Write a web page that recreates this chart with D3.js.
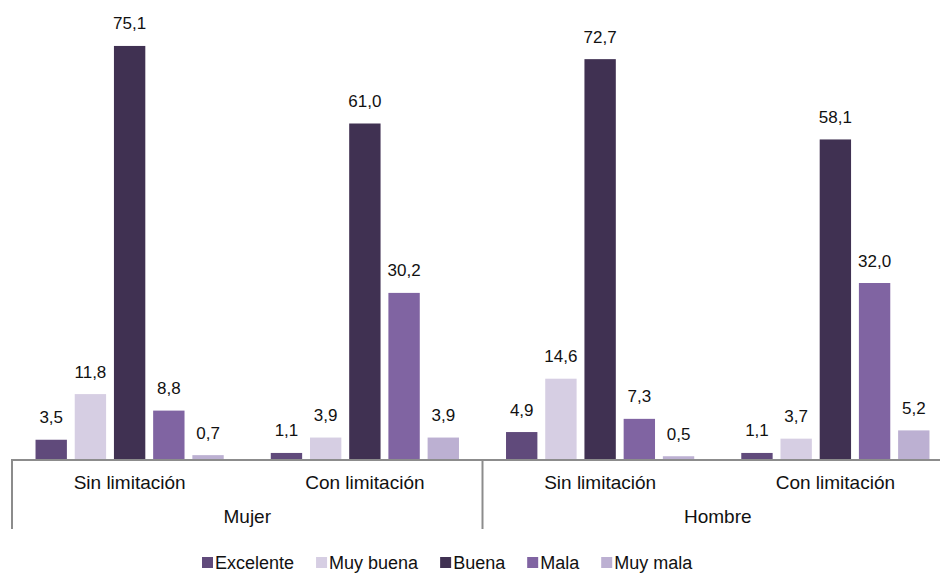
<!DOCTYPE html>
<html>
<head>
<meta charset="utf-8">
<script src="https://cdn.jsdelivr.net/npm/d3@7"></script>
<style>
  html, body { margin: 0; padding: 0; background: #fff; }
  svg { display: block; font-family: "Liberation Sans", Arial, sans-serif; }
</style>
</head>
<body>
<svg id="chart" width="940" height="574"></svg>
<script>
// Self-rated health by limitation status, split by sex (percent)
const groups = ["Mujer", "Hombre"];
const categories = ["Sin limitación", "Con limitación"];
const series = ["Excelente", "Muy buena", "Buena", "Mala", "Muy mala"];
const colors = ["#604a7b", "#d6cee3", "#403152", "#8064a2", "#bcb0d2"];

const mujerSin = [3.5, 11.8, 75.1, 8.8, 0.7];
const mujerCon = [1.1, 3.9, 61.0, 30.2, 3.9];
const hombreSin = [4.9, 14.6, 72.7, 7.3, 0.5];
const hombreCon = [1.1, 3.7, 58.1, 32.0, 5.2];

const values = [[mujerSin, mujerCon], [hombreSin, hombreCon]];

// flatten into one row per (group, category)
const rows = [];
groups.forEach((g, gi) => {
  categories.forEach((c, ci) => {
    rows.push({ key: g + "|" + c, group: g, category: c, vals: values[gi][ci] });
  });
});

const svg = d3.select("#chart");
const fmt = v => v.toFixed(1).replace(".", ",");

const left = 12, right = 953, baseY = 459;

const x0 = d3.scaleBand().domain(rows.map(r => r.key)).range([left, right]).padding(0);
const x1 = d3.scaleBand().domain(series).range([0, x0.bandwidth()])
  .paddingInner(0.2).paddingOuter(0.6);
const y = d3.scaleLinear().domain([0, 80]).range([baseY, baseY - 440]);

const cats = svg.append("g").selectAll("g").data(rows).join("g")
  .attr("transform", d => `translate(${x0(d.key)},0)`);

cats.selectAll("rect").data(d => d.vals.map((v, i) => ({ s: series[i], v, i })))
  .join("rect")
  .attr("x", d => x1(d.s))
  .attr("width", x1.bandwidth())
  .attr("y", d => y(d.v))
  .attr("height", d => y(0) - y(d.v))
  .attr("fill", d => colors[d.i]);

cats.selectAll("text.val").data(d => d.vals.map((v, i) => ({ s: series[i], v })))
  .join("text")
  .attr("class", "val")
  .attr("x", d => x1(d.s) + x1.bandwidth() / 2)
  .attr("y", d => y(d.v) - 16.5)
  .attr("text-anchor", "middle")
  .attr("font-size", 17)
  .attr("fill", "#111")
  .text(d => fmt(d.v));

// axis frame
const axisColor = "#8c8c8c";
svg.append("line")
  .attr("x1", left).attr("x2", right)
  .attr("y1", baseY + 1).attr("y2", baseY + 1)
  .attr("stroke", axisColor).attr("stroke-width", 2);

const groupEdges = [left, x0(groups[1] + "|" + categories[0]), right];
groupEdges.forEach(xe => {
  svg.append("line")
    .attr("x1", xe).attr("x2", xe)
    .attr("y1", baseY).attr("y2", 529)
    .attr("stroke", axisColor).attr("stroke-width", 2);
});

// category labels
svg.append("g").selectAll("text").data(rows).join("text")
  .attr("x", d => x0(d.key) + x0.bandwidth() / 2)
  .attr("y", 489)
  .attr("text-anchor", "middle")
  .attr("font-size", 19)
  .attr("fill", "#111")
  .text(d => d.category);

// group labels
svg.append("g").selectAll("text").data(groups).join("text")
  .attr("x", g => {
    const a = x0(g + "|" + categories[0]);
    const b = x0(g + "|" + categories[categories.length - 1]) + x0.bandwidth();
    return (a + b) / 2;
  })
  .attr("y", 523)
  .attr("text-anchor", "middle")
  .attr("font-size", 19)
  .attr("fill", "#111")
  .text(g => g);

// legend
const legend = svg.append("g").attr("transform", "translate(202,0)");
let lx = 0;
series.forEach((s, i) => {
  const item = legend.append("g").attr("transform", `translate(${lx},0)`);
  item.append("rect").attr("x", 0).attr("y", 557).attr("width", 11).attr("height", 11)
    .attr("fill", colors[i]);
  const t = item.append("text").attr("x", 13).attr("y", 569)
    .attr("font-size", 18).attr("fill", "#111").text(s);
  lx += 13 + t.node().getComputedTextLength() + 22;
});
</script>
</body>
</html>
